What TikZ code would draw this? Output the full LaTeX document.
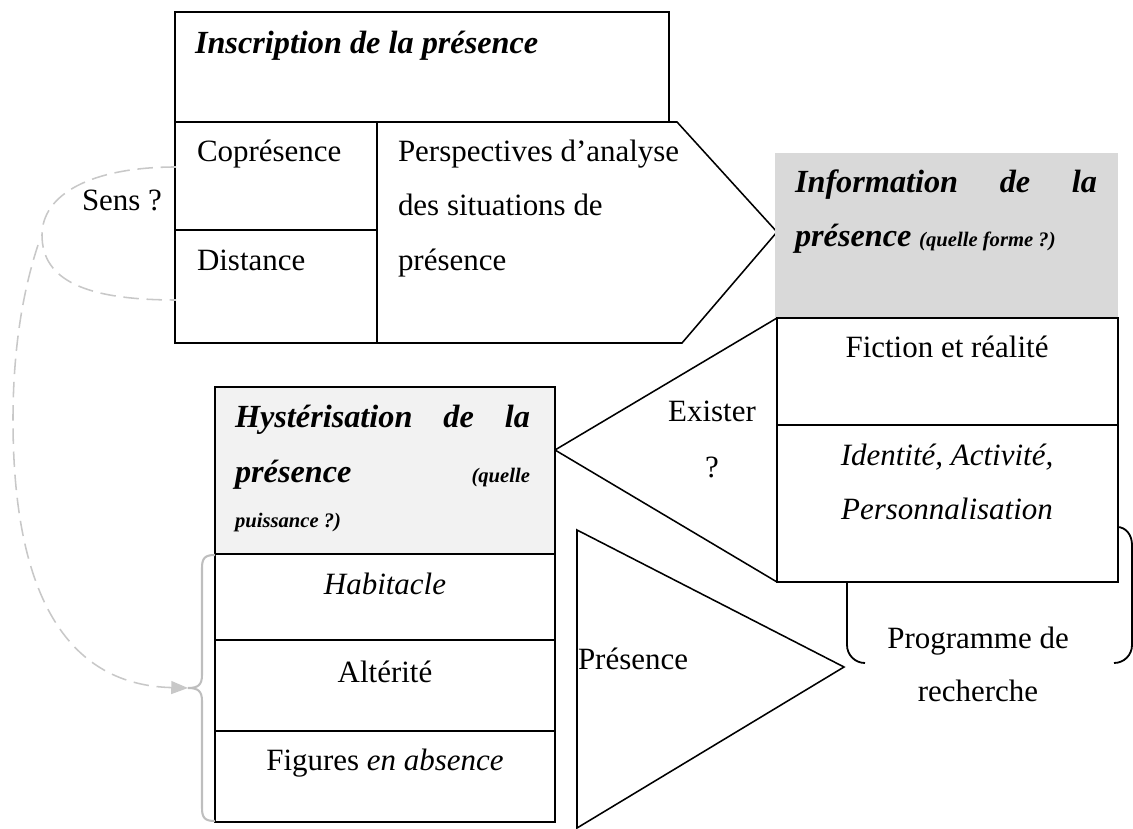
\documentclass[tikz,border=0pt]{standalone}
\usepackage{fontspec}
\setmainfont{Liberation Serif}
\usepackage{tikz}
\usetikzlibrary{positioning}
\usetikzlibrary{arrows.meta}
\definecolor{infogrey}{RGB}{217,217,217}
\definecolor{hystgrey}{RGB}{242,242,242}
\definecolor{linkgrey}{RGB}{200,200,200}
\definecolor{bracegrey}{RGB}{190,190,190}

\begin{document}
\begin{tikzpicture}[x=0.3875pt,y=-0.3875pt,every node/.style={inner sep=0,outer sep=0,font=\fontsize{12}{14}\selectfont},
    box/.style={draw,line width=0.8pt},
    pointer/.style={draw,line width=0.6pt},
    title/.style={font=\fontsize{12.5}{14}\selectfont\bfseries\itshape},
    note/.style={font=\fontsize{8}{10}\selectfont\bfseries\itshape},
    link/.style={linkgrey,line width=0.6pt,dash pattern=on 6pt off 3pt},
    brace/.style={bracegrey,line width=0.8pt}]
	\useasboundingbox (0,0) rectangle (1133,829);
	% inscription
	\draw[box] (175,12) rectangle (669,122);
	\draw[pointer] (377,122) -- (677,122) -- (777,232) -- (682,343) -- (377,343);
	\draw[box] (175,122) rectangle (377,343);
	\draw[box] (175,230) -- (377,230);
	\node[title,anchor=base west] (inscr) at (195,54) {Inscription de la présence};
	\node[anchor=base west] (copr) at (197,162) {Coprésence};
	\node[anchor=base west] (dist) at (197,271) {Distance};
	\node[anchor=base west] (persp1) at (398,162) {Perspectives d’analyse};
	\node[anchor=base west] (persp2) at (398,216) {des situations de};
	\node[anchor=base west] (persp3) at (398,271) {présence};
	\node[anchor=base west] (sens) at (82,211) {Sens ?};
	% information
	\draw[brace,black,line width=0.7pt] (1117,527) .. controls (1126,527) and (1132,535) .. (1132,545) -- (1132,645) .. controls (1132,655) and (1124,663) .. (1114,663);
	\draw[brace,black,line width=0.7pt] (847,582) -- (847,645) .. controls (847,655) and (855,663) .. (865,663);
	\fill[infogrey] (775,153) rectangle (1118,317);
	\draw[box,fill=white] (777,318) rectangle (1118,582);
	\draw[box] (777,425) -- (1118,425);
	\node[title,anchor=base west,text width=117pt] (info1) at (795,193) {Information\hfill de\hfill la};
	\node[title,anchor=base west] (info2) at (795,247) {présence};
	\node[note,right=3pt of info2.base east,anchor=base west] (infoq) {(quelle forme ?)};
	\node[anchor=base] (fict) at (947,358) {Fiction et réalité};
	\node[anchor=base] (ident) at (947,466) {\itshape Identité, Activité,};
	\node[anchor=base] (perso) at (947,520) {\itshape Personnalisation};
	\node[anchor=base] (prog1) at (978,648) {Programme de};
	\node[anchor=base] (prog2) at (978,701) {recherche};
	% hysterisation
	\draw[pointer] (777,318) -- (555,450) -- (777,582);
	\node[anchor=base] (exist) at (712,422) {Exister};
	\node[anchor=base] (existq) at (712,478) {?};
	\draw[box,fill=hystgrey,line width=0.6pt] (215,387) rectangle (555,554);
	\draw[box] (215,554) rectangle (555,822);
	\draw[box] (215,640) -- (555,640);
	\draw[box] (215,731) -- (555,731);
	\node[title,anchor=base west,text width=114.3pt] (hyst1) at (235,428) {Hystérisation\hfill de\hfill la};
	\node[title,anchor=base west] (hyst2) at (235,483) {présence};
	\node[note,anchor=base east] (hystq) at (530,483) {(quelle};
	\node[note,anchor=base west] (hyst3) at (235,528) {puissance ?)};
	\node[anchor=base] (habit) at (385,595) {\itshape Habitacle};
	\node[anchor=base] (alter) at (385,682) {Altérité};
	\node[anchor=base] (figur) at (385,770) {Figures \textit{en absence}};
	% presence
	\draw[pointer] (577,530) -- (844,667) -- (577,828) -- cycle;
	\node[anchor=base west] (pres) at (578,669) {Présence};
	% links
	\coordinate (loopA) at (176,167);
	\coordinate (loopB) at (176,300);
	\coordinate (loopW) at (38,245);
	\coordinate (bracetip) at (188,688);
	\draw[brace] (215,555) .. controls (205,555) and (202,558) .. (202,568) -- (202,675) .. controls (202,685) and (198,688) .. (bracetip)
	  .. controls (198,688) and (202,691) .. (202,701) -- (202,808) .. controls (202,818) and (205,821) .. (215,821);
	\draw[link] (loopA) .. controls (90,167) and (42,195) .. (42,235) .. controls (42,280) and (85,300) .. (loopB);
	\draw[link,-{Triangle[length=6.5pt,width=5pt]}] (loopW) .. controls (20,300) and (13,360) .. (13,420) .. controls (13,600) and (70,685) .. (bracetip);
\end{tikzpicture}
\end{document}
